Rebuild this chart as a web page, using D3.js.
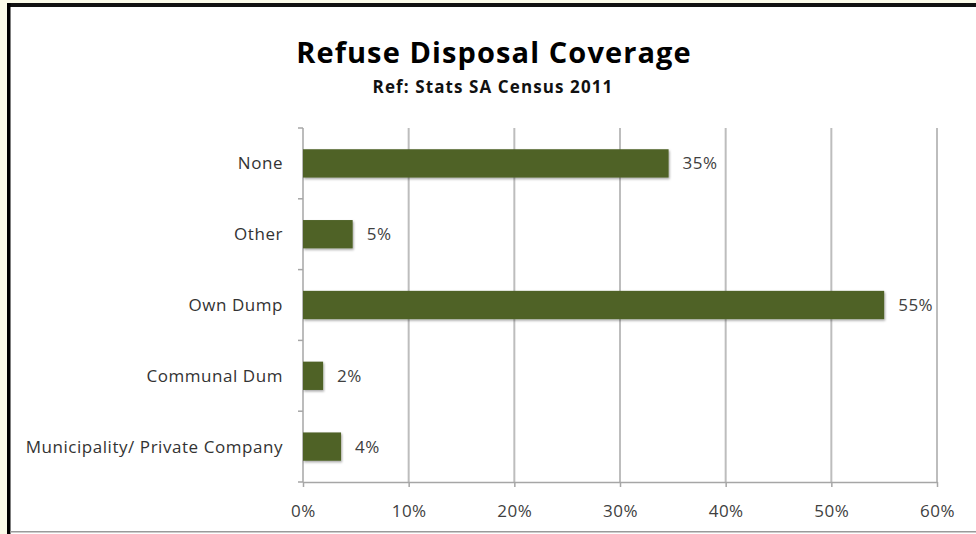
<!DOCTYPE html>
<html>
<head>
<meta charset="utf-8">
<script src="https://cdn.jsdelivr.net/npm/d3@7"></script>
<style>
  html, body { margin: 0; padding: 0; background: #fbfbe9; }
  svg { display: block; }
</style>
</head>
<body>
<svg id="chart" width="976" height="534"></svg>
<script>
// Refuse disposal coverage by method (share of households)
const categories = ["None", "Other", "Own Dump", "Communal Dum", "Municipality/ Private Company"];
const shares = [0.346, 0.047, 0.55, 0.019, 0.036];
const xTicks = [0, 0.1, 0.2, 0.3, 0.4, 0.5, 0.6];
const titleText = "Refuse Disposal Coverage";
const subtitleText = "Ref: Stats SA Census 2011";

const data = categories.map((c, i) => ({ category: c, value: shares[i] }));

const svg = d3.select("#chart");
const W = 976, H = 534;

// Page frame: white panel, dark left/top rule, thin grey bottom rule
svg.append("rect").attr("x", 8).attr("y", 5).attr("width", W - 8).attr("height", H - 5).attr("fill", "#ffffff");
svg.append("rect").attr("x", 7).attr("y", 3).attr("width", W - 7).attr("height", 4).attr("fill", "#111");
svg.append("rect").attr("x", 7).attr("y", 3).attr("width", 3.5).attr("height", H - 3).attr("fill", "#000");
svg.append("rect").attr("x", 10).attr("y", 531).attr("width", W - 10).attr("height", 1.5).attr("fill", "#9a9a9a");

const defs = svg.append("defs");
const shadow = defs.append("filter").attr("id", "barShadow")
  .attr("x", "-5%").attr("y", "-20%").attr("width", "115%").attr("height", "160%");
shadow.append("feDropShadow").attr("dx", 1).attr("dy", 1.5).attr("stdDeviation", 1.2)
  .attr("flood-color", "#000").attr("flood-opacity", 0.35);

const plot = { left: 303, right: 937, top: 128, bottom: 482 };

const x = d3.scaleLinear().domain([0, 0.6]).range([plot.left, plot.right]);
const y = d3.scaleBand().domain(categories).range([plot.top, plot.bottom])
  .paddingInner(0.6).paddingOuter(0.3);

const fontFamily = "'Open Sans', 'Noto Sans', sans-serif";
const pct = d3.format(".0%");

// Vertical gridlines
svg.append("g")
  .selectAll("line")
  .data(xTicks.slice(1))
  .join("line")
  .attr("x1", d => x(d)).attr("x2", d => x(d))
  .attr("y1", plot.top).attr("y2", plot.bottom)
  .attr("stroke", "#bdbdbd").attr("stroke-width", 2);

// X axis
const xAxis = svg.append("g")
  .attr("transform", `translate(0,${plot.bottom})`)
  .call(d3.axisBottom(x).tickValues(xTicks).tickFormat(pct).tickSizeInner(5).tickSizeOuter(0).tickPadding(18));
xAxis.select(".domain").attr("stroke", "#a6a6a6").attr("stroke-width", 1.5);
xAxis.selectAll(".tick line").attr("stroke", "#a6a6a6").attr("stroke-width", 1.5);
xAxis.selectAll(".tick text")
  .attr("font-family", fontFamily).attr("font-size", 17).attr("letter-spacing", 0.5)
  .attr("fill", "#404040");

// Y axis: line with ticks at category boundaries
const step = y.step();
const boundaries = d3.range(categories.length + 1).map(i => plot.top + i * step);
const yAxis = svg.append("g");
yAxis.append("line")
  .attr("x1", plot.left).attr("x2", plot.left)
  .attr("y1", plot.top).attr("y2", plot.bottom)
  .attr("stroke", "#a6a6a6").attr("stroke-width", 1.5);
yAxis.selectAll("line.tick")
  .data(boundaries)
  .join("line")
  .attr("class", "tick")
  .attr("x1", plot.left - 5).attr("x2", plot.left)
  .attr("y1", d => d).attr("y2", d => d)
  .attr("stroke", "#a6a6a6").attr("stroke-width", 1.5);

// Category labels
svg.append("g")
  .selectAll("text")
  .data(categories)
  .join("text")
  .attr("x", plot.left - 20)
  .attr("y", d => y(d) + y.bandwidth() / 2)
  .attr("dy", "0.35em")
  .attr("text-anchor", "end")
  .attr("font-family", fontFamily).attr("font-size", 17).attr("letter-spacing", 0.55)
  .attr("fill", "#333")
  .text(d => d);

// Bars
svg.append("g")
  .selectAll("rect")
  .data(data)
  .join("rect")
  .attr("x", x(0))
  .attr("y", d => y(d.category))
  .attr("width", d => x(d.value) - x(0))
  .attr("height", y.bandwidth())
  .attr("fill", "#4f6228")
  .attr("filter", "url(#barShadow)");

// Value labels
svg.append("g")
  .selectAll("text")
  .data(data)
  .join("text")
  .attr("x", d => x(d.value) + 14)
  .attr("y", d => y(d.category) + y.bandwidth() / 2)
  .attr("dy", "0.35em")
  .attr("font-family", fontFamily).attr("font-size", 17).attr("letter-spacing", 0.5)
  .attr("fill", "#404040")
  .text(d => pct(d.value));

// Titles
svg.append("text")
  .attr("x", 494).attr("y", 63)
  .attr("text-anchor", "middle")
  .attr("font-family", fontFamily).attr("font-weight", "bold").attr("font-size", 29)
  .attr("letter-spacing", 1.1)
  .attr("fill", "#000")
  .text(titleText);
svg.append("text")
  .attr("x", 493).attr("y", 93)
  .attr("text-anchor", "middle")
  .attr("font-family", fontFamily).attr("font-weight", "bold").attr("font-size", 17)
  .attr("letter-spacing", 1.1)
  .attr("fill", "#111")
  .text(subtitleText);
</script>
</body>
</html>
